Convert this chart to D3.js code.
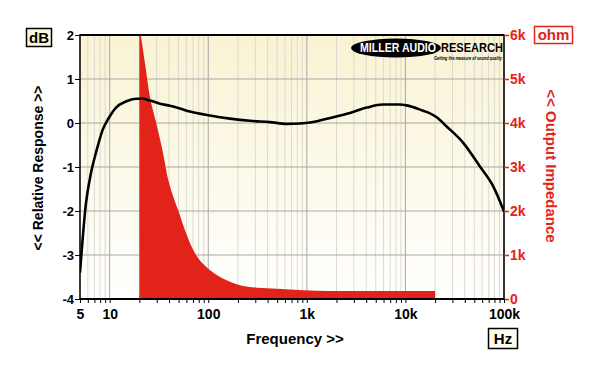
<!DOCTYPE html>
<html>
<head>
<meta charset="utf-8">
<script src="https://cdn.jsdelivr.net/npm/d3@7"></script>
<style>
  body { margin: 0; background: #fff; }
  svg { display: block; font-family: "Liberation Sans", Arial, sans-serif; font-weight: bold; }
</style>
</head>
<body>
<div id="chart"></div>
<script>
// frequency response (dB)
const respFreq = [5, 5.75, 6.47, 7.27, 8.5, 9.83, 11.6, 14.6, 18.5, 21.6, 25.6, 32.4, 40.9, 51.6, 65, 104, 166, 265, 423, 624, 851, 1077, 1841, 2737, 4045, 5915, 8790, 10280, 15050, 17740, 20750, 26200, 38600, 57000, 77800, 100000];
const respDb = [-3.4, -1.82, -1.13, -0.67, -0.15, 0.12, 0.35, 0.49, 0.55, 0.55, 0.51, 0.44, 0.39, 0.33, 0.26, 0.17, 0.10, 0.05, 0.02, -0.02, -0.01, 0.01, 0.13, 0.23, 0.35, 0.42, 0.42, 0.40, 0.28, 0.22, 0.13, -0.08, -0.45, -0.99, -1.44, -2.01];

// output impedance (ohm)
const impFreq = [20, 20.8, 22.8, 25.6, 29.5, 34.5, 39.3, 44.2, 50.8, 58, 67.9, 79.2, 96.4, 122, 166, 226, 310, 497, 1715, 5000, 20000];
const impOhm = [6200, 5960, 5360, 4600, 4020, 3350, 2705, 2325, 1948, 1568, 1189, 925, 720, 545, 393, 295, 257, 235, 182, 180, 180];

const dbTicks = [-4, -3, -2, -1, 0, 1, 2];
const ohmTicks = [0, 1000, 2000, 3000, 4000, 5000, 6000];
const freqLabels = [5, 10, 100, 1000, 10000, 100000];

const W = 600, H = 376;
const pL = 80, pR = 504, pT = 35, pB = 299;
const red = '#e2231a';

const svg = d3.select('#chart').append('svg').attr('width', W).attr('height', H);
const defs = svg.append('defs');
const bg = defs.append('linearGradient').attr('id', 'bg').attr('x1', 0).attr('y1', 0).attr('x2', 0).attr('y2', 1);
bg.append('stop').attr('offset', '0%').attr('stop-color', '#f9f3d3');
bg.append('stop').attr('offset', '100%').attr('stop-color', '#ffffff');
defs.append('clipPath').attr('id', 'plotClip')
  .append('rect').attr('x', pL).attr('y', pT).attr('width', pR - pL).attr('height', pB - pT);

const x = d3.scaleLog().domain([5, 100000]).range([pL, pR]);
const yL = d3.scaleLinear().domain([-4, 2]).range([pB, pT]);
const yR = d3.scaleLinear().domain([0, 6000]).range([pB, pT]);

svg.append('rect').attr('x', pL).attr('y', pT).attr('width', pR - pL).attr('height', pB - pT)
  .attr('fill', 'url(#bg)');

// grid
const isMajor = d => Math.abs(Math.log10(d) - Math.round(Math.log10(d))) < 1e-6;
const xt = x.ticks();
const grid = svg.append('g');
grid.selectAll('line.minor').data(xt.filter(d => !isMajor(d))).join('line')
  .attr('x1', d => x(d)).attr('x2', d => x(d)).attr('y1', pT).attr('y2', pB)
  .attr('stroke', '#dcdad0').attr('stroke-width', 1);
grid.selectAll('line.h').data(dbTicks).join('line')
  .attr('x1', pL).attr('x2', pR).attr('y1', d => yL(d)).attr('y2', d => yL(d))
  .attr('stroke', '#a8a8a4').attr('stroke-width', 1);
grid.selectAll('line.major').data(xt.filter(isMajor)).join('line')
  .attr('x1', d => x(d)).attr('x2', d => x(d)).attr('y1', pT).attr('y2', pB)
  .attr('stroke', '#a8a8a4').attr('stroke-width', 1);

const plot = svg.append('g').attr('clip-path', 'url(#plotClip)');

// impedance area
const impData = impFreq.map((f, i) => ({ f, v: impOhm[i] }));
plot.append('path').datum(impData)
  .attr('d', d3.area().x(d => x(d.f)).y0(yR(0)).y1(d => yR(d.v)).curve(d3.curveMonotoneX))
  .attr('fill', red);

// response line
const respData = respFreq.map((f, i) => ({ f, v: respDb[i] }));
plot.append('path').datum(respData)
  .attr('d', d3.line().x(d => x(d.f)).y(d => yL(d.v)).curve(d3.curveMonotoneX))
  .attr('fill', 'none').attr('stroke', '#000').attr('stroke-width', 2.6).attr('stroke-linejoin', 'round');

// frame
svg.append('rect').attr('x', pL).attr('y', pT).attr('width', pR - pL).attr('height', pB - pT)
  .attr('fill', 'none').attr('stroke', '#000').attr('stroke-width', 1.5);
svg.append('line').attr('x1', pL).attr('x2', pR).attr('y1', pT).attr('y2', pT).attr('stroke', '#000').attr('stroke-width', 2);
svg.append('line').attr('x1', pL).attr('x2', pR).attr('y1', pB).attr('y2', pB).attr('stroke', '#000').attr('stroke-width', 2);

// axes
const axL = svg.append('g').attr('transform', `translate(${pL},0)`)
  .call(d3.axisLeft(yL).tickValues(dbTicks).tickSize(5).tickPadding(1).tickFormat(d => String(d)));
axL.select('.domain').remove();
axL.selectAll('text').attr('font-size', 13).attr('font-family', '"Liberation Sans", Arial, sans-serif').attr('fill', '#000');
axL.selectAll('line').attr('stroke', '#000');

const axR = svg.append('g').attr('transform', `translate(${pR},0)`)
  .call(d3.axisRight(yR).tickValues(ohmTicks).tickSize(5).tickPadding(1).tickFormat(d => d === 0 ? '0' : (d / 1000) + 'k'));
axR.select('.domain').remove();
axR.selectAll('text').attr('font-size', 14).attr('font-family', '"Liberation Sans", Arial, sans-serif').attr('fill', red);
axR.selectAll('line').attr('stroke', red).attr('stroke-width', 1.5);

const axB = svg.append('g').attr('transform', `translate(0,${pB})`)
  .call(d3.axisBottom(x).tickValues(xt).tickSize(4).tickPadding(6)
    .tickFormat(d => freqLabels.includes(d) ? (d >= 1000 ? (d / 1000) + 'k' : String(d)) : ''));
axB.select('.domain').remove();
axB.selectAll('text').attr('font-size', 14).attr('font-family', '"Liberation Sans", Arial, sans-serif').attr('fill', '#000');
axB.selectAll('line').attr('stroke', '#000');

// axis titles
svg.append('text').attr('x', 295).attr('y', 344).attr('text-anchor', 'middle').attr('font-size', 15).text('Frequency >>');
svg.append('text').attr('transform', 'translate(43,168) rotate(-90)').attr('text-anchor', 'middle')
  .attr('font-size', 14).text('<< Relative Response >>');
svg.append('text').attr('transform', 'translate(546,166) rotate(90)').attr('text-anchor', 'middle')
  .attr('font-size', 15).attr('fill', red).text('<< Output Impedance');

// unit boxes
function unitBox(x0, y0, w, h, label, stroke, fill, color) {
  svg.append('rect').attr('x', x0).attr('y', y0).attr('width', w).attr('height', h)
    .attr('fill', fill).attr('stroke', stroke).attr('stroke-width', 1.5);
  svg.append('text').attr('x', x0 + w / 2).attr('y', y0 + h / 2 + 5).attr('text-anchor', 'middle')
    .attr('font-size', 15).attr('fill', color).text(label);
}
unitBox(26.5, 28.5, 25, 18, 'dB', '#000', '#fbf6dc', '#000');
unitBox(534.5, 26.5, 38, 17, 'ohm', red, '#fff', red);
unitBox(488.5, 328.5, 29, 20, 'Hz', '#000', '#fdfbf0', '#000');

// logo
const logo = svg.append('g');
logo.append('ellipse').attr('cx', 396).attr('cy', 48).attr('rx', 45).attr('ry', 9.5).attr('fill', '#000');
logo.append('text').attr('x', 360).attr('y', 52).attr('font-size', 12).attr('fill', '#fff')
  .attr('textLength', 76).attr('lengthAdjust', 'spacingAndGlyphs').text('MILLER AUDIO');
logo.append('text').attr('x', 441).attr('y', 52).attr('font-size', 12).attr('fill', '#000')
  .attr('textLength', 62).attr('lengthAdjust', 'spacingAndGlyphs').text('RESEARCH');
logo.append('text').attr('x', 434).attr('y', 59.5).attr('font-size', 5).attr('font-style', 'italic').attr('fill', '#000')
  .attr('textLength', 68).attr('lengthAdjust', 'spacingAndGlyphs').text('Getting the measure of sound quality');
</script>
</body>
</html>
